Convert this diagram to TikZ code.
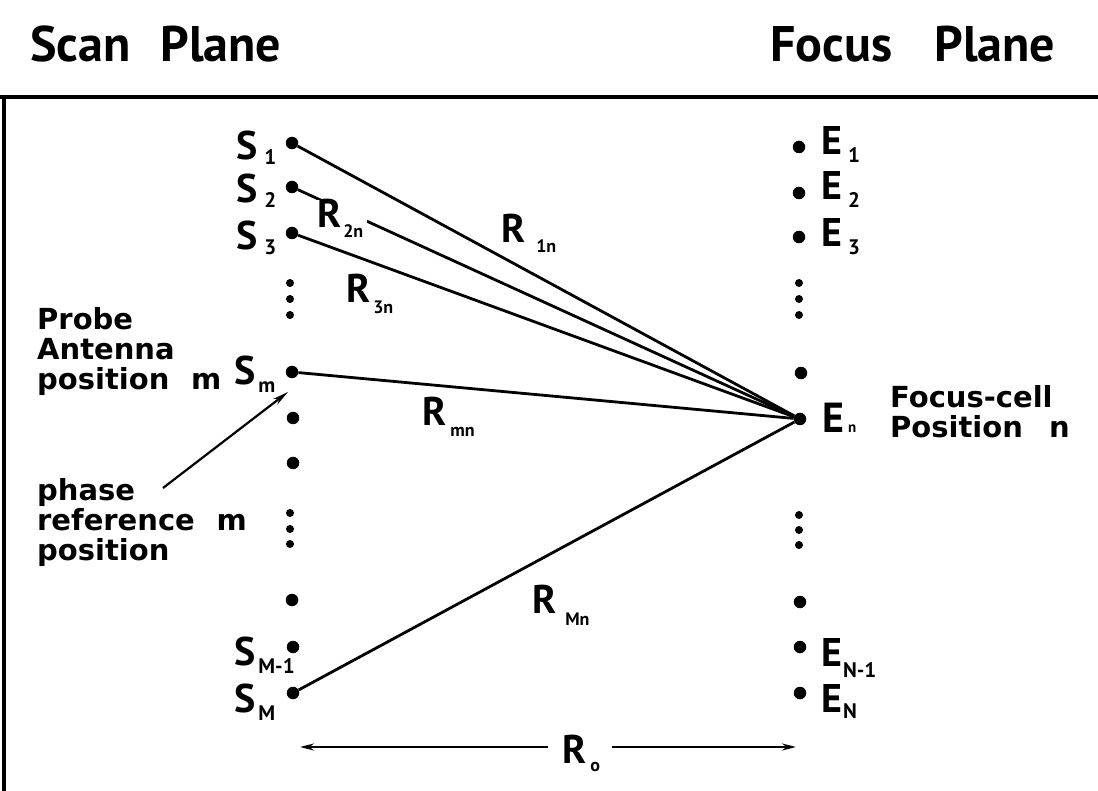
\documentclass[tikz,border=0pt]{standalone}
\usepackage{fontspec}
\setmainfont{PT Sans}
\newfontfamily\blkfont{DejaVu Sans}
\usetikzlibrary{arrows.meta}
\newcommand{\symb}[4]{{\bfseries\fontsize{40}{40}\selectfont #1}\kern#2\raisebox{#3}{\bfseries\fontsize{21}{21}\selectfont #4}}
\newcommand{\rlab}[3]{{\bfseries\fontsize{40}{40}\selectfont R}\kern#1\raisebox{#2}{\bfseries\fontsize{18}{18}\selectfont #3}}
\tikzset{
  bdot/.style={circle, fill=black, inner sep=0pt, minimum size=12.5pt},
  sdot/.style={circle, fill=black, inner sep=0pt, minimum size=8pt},
  conn/.style={line width=2.8pt},
  framel/.style={line width=3.2pt},
  lbl/.style={inner sep=0pt, anchor=base west},
  blk/.style={inner sep=0pt, anchor=north west, align=left, font=\blkfont\bfseries\fontsize{29}{30}\selectfont},
  ttl/.style={inner sep=0pt, anchor=base west, font=\bfseries\fontsize{50}{50}\selectfont},
  tip/.style={-{Stealth[length=16pt,width=7pt]}},
  dim/.style={line width=2.2pt, -{Stealth[length=14pt,width=7pt]}}
}
\begin{document}
\begin{tikzpicture}[x=1pt,y=-1pt]
\useasboundingbox (0,0) rectangle (1098,791);
\fill[white] (0,0) rectangle (1098,791);
% frame
\coordinate (ftl) at (4,97);
\coordinate (ftr) at (1098,97);
\coordinate (fl0) at (0,97);
\coordinate (fbl) at (4,791);
\draw[framel] (fl0) -- (ftr);
\draw[framel] (ftl) -- (fbl);
% titles
\node[ttl] (scan) at (30,62) {Scan\hspace{0.6em}Plane};
\node[ttl] (focus) at (770,62) {Focus\hspace{0.85em}Plane};
% scan plane dots
\node[bdot] (s1) at (292,143) {};
\node[bdot] (s2) at (292,187) {};
\node[bdot] (s3) at (292,233) {};
\node[sdot] (sa1) at (290,283) {};
\node[sdot] (sa2) at (290,299) {};
\node[sdot] (sa3) at (290,315) {};
\node[bdot] (sm) at (292,372) {};
\node[bdot] (sb1) at (293,418) {};
\node[bdot] (sb2) at (293,463) {};
\node[sdot] (sc1) at (290,513) {};
\node[sdot] (sc2) at (290,529) {};
\node[sdot] (sc3) at (290,544) {};
\node[bdot] (sd1) at (292,600) {};
\node[bdot] (sM1) at (293,647) {};
\node[bdot] (sM) at (293,693) {};
% focus plane dots
\node[bdot] (e1) at (799,147) {};
\node[bdot] (e2) at (799,193) {};
\node[bdot] (e3) at (799,237) {};
\node[sdot] (ea1) at (799,283) {};
\node[sdot] (ea2) at (799,299) {};
\node[sdot] (ea3) at (799,315) {};
\node[bdot] (eb1) at (801,373) {};
\node[bdot] (en) at (800,419) {};
\node[sdot] (ec1) at (799,515) {};
\node[sdot] (ec2) at (799,530) {};
\node[sdot] (ec3) at (799,545) {};
\node[bdot] (ed1) at (800,602) {};
\node[bdot] (eN1) at (800,647) {};
\node[bdot] (eN) at (800,693) {};
% connectors
\draw[conn] (s1) -- (en);
\draw[conn] (s2) -- (en);
\draw[conn] (s3) -- (en);
\draw[conn] (sm) -- (en);
\draw[conn] (sM) -- (en);
% S labels
\node[lbl] (ls1) at (236,160) {\symb{S}{7pt}{-5pt}{1}};
\node[lbl] (ls2) at (236,203) {\symb{S}{7pt}{-5pt}{2}};
\node[lbl] (ls3) at (236,250) {\symb{S}{7pt}{-5pt}{3}};
\node[lbl] (lsm) at (234,385) {\symb{S}{3pt}{-8pt}{m}};
\node[lbl] (lsM1) at (234,665) {\symb{S}{3pt}{-8pt}{M-1}};
\node[lbl] (lsM) at (234,712) {\symb{S}{3pt}{-8pt}{M}};
% E labels
\node[lbl] (le1) at (821,155) {\symb{E}{6pt}{-8pt}{1}};
\node[lbl] (le2) at (821,200) {\symb{E}{6pt}{-8pt}{2}};
\node[lbl] (le3) at (821,247) {\symb{E}{6pt}{-8pt}{3}};
\node[lbl] (len) at (822,432) {{\bfseries\fontsize{42}{42}\selectfont E}\kern4pt{\bfseries\fontsize{15}{15}\selectfont n}};
\node[lbl] (leN1) at (821,666) {\symb{E}{1pt}{-11pt}{N-1}};
\node[lbl] (leN) at (821,712) {\symb{E}{1pt}{-6pt}{N}};
% R labels
\node[lbl] (r1n) at (501,243) {\rlab{11pt}{-10pt}{1n}};
\node[lbl, fill=white, inner xsep=4pt] (r2n) at (313,228) {\rlab{2pt}{-10pt}{2n}};
\node[lbl] (r3n) at (346,303) {\rlab{3pt}{-11pt}{3n}};
\node[lbl] (rmn) at (422,426) {\rlab{4pt}{-10pt}{mn}};
\node[lbl] (rMn) at (532,613) {\rlab{9pt}{-12pt}{Mn}};
% text blocks
\node[blk] (probe) at (37,307) {Probe\\Antenna\\position\hspace{0.75em}m};
\node[blk] (phase) at (37,478) {phase\\reference\hspace{0.75em}m\\position};
\node[blk] (fcell) at (890,385) {Focus-cell\\Position\hspace{0.9em}n};
% phase reference arrow
\coordinate (phtail) at (163,488);
\coordinate (phtip) at (288,392);
\draw[line width=2.2pt, tip] (phtail) -- (phtip);
% R_o dimension
\node[lbl] (ro) at (562,763) {\rlab{4pt}{-8pt}{o}};
\coordinate (rol) at (300,747);
\coordinate (ror) at (796,747);
\coordinate (roa) at (548,747);
\coordinate (rob) at (612,747);
\draw[dim] (roa) -- (rol);
\draw[dim] (rob) -- (ror);
\end{tikzpicture}
\end{document}
